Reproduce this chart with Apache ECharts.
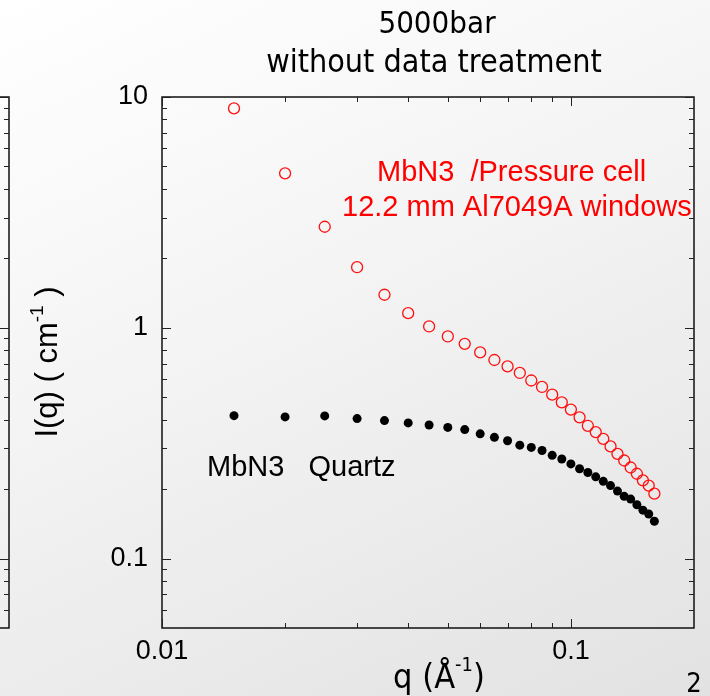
<!DOCTYPE html>
<html>
<head>
<meta charset="utf-8">
<script src="https://cdn.jsdelivr.net/npm/echarts@6/dist/echarts.min.js"></script>
<style>
  html, body { margin: 0; padding: 0; }
  #chart {
    width: 710px;
    height: 696px;
    background: linear-gradient(155deg, #ffffff 0%, #f6f6f6 35%, #e2e2e2 100%);
  }
</style>
</head>
<body>
<div id="chart"></div>
<script>
// q in 1/Angstrom
const q = [0.015, 0.02, 0.025, 0.03, 0.035, 0.04, 0.045, 0.05, 0.055, 0.06,
  0.065, 0.07, 0.075, 0.08, 0.085, 0.09, 0.095, 0.1, 0.105, 0.11,
  0.115, 0.12, 0.125, 0.13, 0.135, 0.14, 0.145, 0.15, 0.155, 0.16]

// MbN3 in pressure cell (open red circles)
const cellI = [8.93, 4.67, 2.74, 1.83, 1.39, 1.157, 1.013, 0.917, 0.852, 0.782,
  0.725, 0.68, 0.637, 0.591, 0.554, 0.513, 0.475, 0.442, 0.409, 0.376,
  0.353, 0.33, 0.306, 0.284, 0.266, 0.248, 0.233, 0.218, 0.207, 0.191]

// MbN3 in quartz cell (filled black dots)
const quartzI = [0.416, 0.411, 0.415, 0.404, 0.396, 0.387, 0.379, 0.37, 0.362, 0.347,
  0.335, 0.324, 0.31, 0.303, 0.294, 0.28, 0.27, 0.257, 0.245, 0.236,
  0.226, 0.216, 0.207, 0.196, 0.186, 0.181, 0.171, 0.162, 0.156, 0.145]

const xMajorTicks = [0.01, 0.1]
const xMinorTicks = [0.02, 0.03, 0.04, 0.05, 0.06, 0.07, 0.08, 0.09]
const yMajorTicks = [0.1, 1, 10]
const yMinorTicks = [0.06, 0.07, 0.08, 0.09,
  0.2, 0.3, 0.4, 0.5, 0.6, 0.7, 0.8, 0.9,
  2, 3, 4, 5, 6, 7, 8, 9]

const X_MIN = 0.01, X_MAX = 0.2
const Y_MIN = 0.05, Y_MAX = 10

const chart = echarts.init(document.getElementById('chart'))

// tick rows: [x, y, isYTick, length]
function tickRows(withX) {
  const rows = []
  yMajorTicks.forEach(v => rows.push([X_MIN, v, 1, 9]))
  yMinorTicks.forEach(v => rows.push([X_MIN, v, 1, 5]))
  if (withX) {
    xMajorTicks.forEach(v => rows.push([v, Y_MIN, 0, 9]))
    xMinorTicks.forEach(v => rows.push([v, Y_MIN, 0, 5]))
  }
  return rows
}

function renderTick(params, api) {
  const cs = params.coordSys
  const p = api.coord([api.value(0), api.value(1)])
  const len = api.value(3)
  const style = { stroke: '#222', lineWidth: 1 }
  let segs
  if (api.value(2) === 1) {
    const y = Math.round(p[1]) + 0.5
    segs = [
      [cs.x, y, cs.x + len, y],
      [cs.x + cs.width, y, cs.x + cs.width - len, y]
    ]
  } else {
    const x = Math.round(p[0]) + 0.5
    segs = [
      [x, cs.y + cs.height, x, cs.y + cs.height - len],
      [x, cs.y, x, cs.y + len]
    ]
  }
  return {
    type: 'group',
    children: segs.map(s => ({
      type: 'line',
      shape: { x1: s[0], y1: s[1], x2: s[2], y2: s[3] },
      style: style
    }))
  }
}

const labelFont = "'Liberation Sans', Arial, sans-serif"
const narrowFont = "'DejaVu Sans Condensed', 'DejaVu Sans', sans-serif"

function fmt(v) {
  return v >= 1 ? String(Math.round(v)) : String(parseFloat(v.toPrecision(2)))
}

const option = {
  backgroundColor: 'transparent',
  animation: false,
  grid: [
    {
      left: 162, top: 97, width: 532, height: 531,
      show: true, borderColor: '#111', borderWidth: 1.5,
      backgroundColor: 'transparent',
      outerBoundsMode: 'none'
    },
    {
      left: -400, top: 97, width: 409, height: 531,
      show: true, borderColor: '#111', borderWidth: 1.5,
      backgroundColor: 'transparent',
      outerBoundsMode: 'none'
    }
  ],
  xAxis: [
    {
      type: 'log', gridIndex: 0, min: X_MIN, max: X_MAX,
      axisLine: { show: false },
      axisTick: { show: false },
      splitLine: { show: false },
      axisLabel: {
        color: '#000', fontSize: 27, fontFamily: labelFont, margin: 10,
        showMaxLabel: false, formatter: fmt
      }
    },
    { type: 'log', gridIndex: 1, min: X_MIN, max: X_MAX, show: false }
  ],
  yAxis: [
    {
      type: 'log', gridIndex: 0, min: Y_MIN, max: Y_MAX,
      axisLine: { show: false },
      axisTick: { show: false },
      splitLine: { show: false },
      axisLabel: {
        color: '#000', fontSize: 27, fontFamily: labelFont, margin: 14,
        showMinLabel: false, formatter: fmt
      }
    },
    { type: 'log', gridIndex: 1, min: Y_MIN, max: Y_MAX, show: false }
  ],
  graphic: [
    { type: 'text', x: 437, y: 25, style: { text: '5000bar', fontSize: 31, fontFamily: narrowFont, fill: '#000', align: 'center', verticalAlign: 'middle' } },
    { type: 'text', x: 434, y: 64, style: { text: 'without data treatment', fontSize: 32, fontFamily: narrowFont, fill: '#000', align: 'center', verticalAlign: 'middle' } },
    { type: 'text', x: 377, y: 173, style: { text: 'MbN3  /Pressure cell', fontSize: 29, fontFamily: labelFont, fill: '#ff0000', align: 'left', verticalAlign: 'middle' } },
    { type: 'text', x: 342, y: 208, style: { text: '12.2 mm Al7049A windows', fontSize: 29, fontFamily: labelFont, fill: '#ff0000', align: 'left', verticalAlign: 'middle' } },
    { type: 'text', x: 207, y: 468, style: { text: 'MbN3   Quartz', fontSize: 29, fontFamily: labelFont, fill: '#000', align: 'left', verticalAlign: 'middle' } },
    {
      type: 'text', x: 46, y: 362, rotation: Math.PI / 2,
      style: {
        text: '{a|I(q) ( cm}{s|-1}{a| )}',
        align: 'center', verticalAlign: 'middle',
        rich: {
          a: { fontSize: 31, fontFamily: labelFont, fill: '#000', lineHeight: 36, verticalAlign: 'bottom' },
          s: { fontSize: 19, fontFamily: labelFont, fill: '#000', lineHeight: 36, verticalAlign: 'top' }
        }
      }
    },
    {
      type: 'text', x: 439, y: 676,
      style: {
        text: '{a|q (Å}{s|-1}{a|)}',
        align: 'center', verticalAlign: 'middle',
        rich: {
          a: { fontSize: 34, fontFamily: narrowFont, fill: '#000', lineHeight: 40, verticalAlign: 'bottom' },
          s: { fontSize: 20, fontFamily: narrowFont, fill: '#000', lineHeight: 40, verticalAlign: 'top' }
        }
      }
    },
    { type: 'text', x: 694, y: 685, style: { text: '2', fontSize: 27, fontFamily: narrowFont, fill: '#000', align: 'center', verticalAlign: 'middle' } }
  ],
  series: [
    {
      type: 'custom', name: 'ticks', xAxisIndex: 0, yAxisIndex: 0,
      renderItem: renderTick, clip: false, silent: true, z: 5,
      data: tickRows(true)
    },
    {
      type: 'custom', name: 'ticks-left', xAxisIndex: 1, yAxisIndex: 1,
      renderItem: renderTick, clip: false, silent: true, z: 5,
      data: tickRows(false)
    },
    {
      type: 'scatter', name: 'MbN3 Quartz', xAxisIndex: 0, yAxisIndex: 0,
      symbol: 'circle', symbolSize: 9,
      itemStyle: { color: '#000', opacity: 1 },
      data: q.map((x, i) => [x, quartzI[i]])
    },
    {
      type: 'scatter', name: 'MbN3 Pressure cell', xAxisIndex: 0, yAxisIndex: 0,
      symbol: 'circle', symbolSize: 11,
      itemStyle: { color: 'rgba(0,0,0,0)', borderColor: '#ff1010', borderWidth: 1.3, opacity: 1 },
      data: q.map((x, i) => [x, cellI[i]])
    }
  ]
}

chart.setOption(option)
</script>
</body>
</html>
